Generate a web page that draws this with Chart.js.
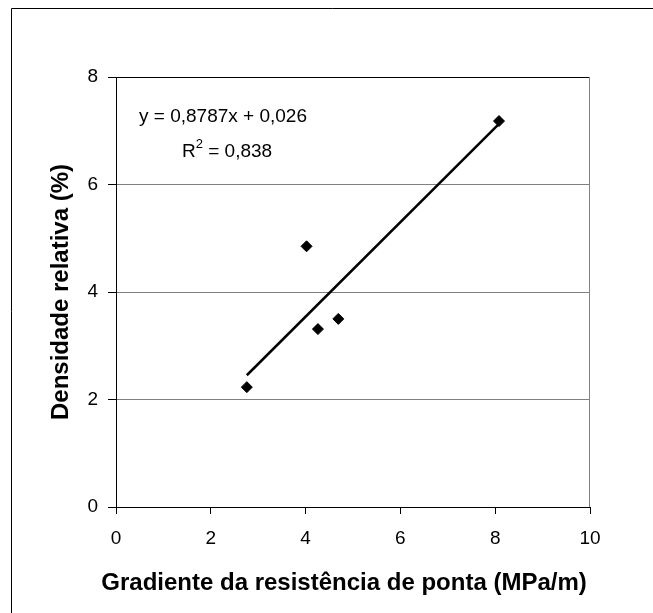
<!DOCTYPE html>
<html>
<head>
<meta charset="utf-8">
<script src="https://cdn.jsdelivr.net/npm/chart.js@4/dist/chart.umd.min.js"></script>
<style>
    html, body { margin: 0; padding: 0; background: #fff; }
    canvas { display: block; }
</style>
</head>
<body>
<canvas id="grafico" width="653" height="613"></canvas>
<script>
// dados
var gradiente = [2.76, 4.02, 4.26, 4.69, 8.08];
var densidade = [2.23, 4.85, 3.31, 3.50, 7.18];

// linha de tendência (Excel)
var inclinacao = 0.8787;
var intercepto = 0.026;
var r2 = "0,838";

var xTicks = [0, 2, 4, 6, 8, 10];
var yTicks = [0, 2, 4, 6, 8];

var tituloX = "Gradiente da resistência de ponta (MPa/m)";
var tituloY = "Densidade relativa (%)";

var fonte = "'Liberation Sans', Arial, sans-serif";
Chart.defaults.color = "#000";
Chart.defaults.font.family = fonte;

var pontos = gradiente.map(function (x, i) {
    return { x: x, y: densidade[i] };
});

var xMin = Math.min.apply(null, gradiente);
var xMax = Math.max.apply(null, gradiente);
var tendencia = [
    { x: xMin, y: inclinacao * xMin + intercepto },
    { x: xMax, y: inclinacao * xMax + intercepto },
];

// moldura externa, borda direita do gráfico, título x e equação
var extras = {
    id: "extras",
    beforeDraw: function (chart) {
        var ctx = chart.ctx;
        ctx.save();
        ctx.strokeStyle = "#000";
        ctx.lineWidth = 1;
        ctx.beginPath();
        ctx.moveTo(11.5, 700);
        ctx.lineTo(11.5, 8.5);
        ctx.lineTo(700, 8.5);
        ctx.stroke();
        ctx.restore();
    },
    afterDraw: function (chart) {
        var ctx = chart.ctx;
        var area = chart.chartArea;
        ctx.save();
        ctx.strokeStyle = "#808080";
        ctx.lineWidth = 1;
        ctx.beginPath();
        ctx.moveTo(Math.round(area.right) - 0.5, area.top);
        ctx.lineTo(Math.round(area.right) - 0.5, area.bottom);
        ctx.stroke();

        ctx.fillStyle = "#000";
        ctx.textBaseline = "middle";
        ctx.textAlign = "center";
        ctx.font = "bold 24px " + fonte;
        ctx.fillText(tituloX, 344, 583);

        ctx.textAlign = "left";
        ctx.font = "19px " + fonte;
        var eq = "y = " + String(inclinacao).replace(".", ",") + "x + " + String(intercepto).replace(".", ",");
        ctx.fillText(eq, area.left + 23, 117);

        var x0 = area.left + 66;
        ctx.fillText("R", x0, 152);
        var wR = ctx.measureText("R").width;
        ctx.font = "13px " + fonte;
        ctx.fillText("2", x0 + wR, 144);
        var w2 = ctx.measureText("2").width;
        ctx.font = "19px " + fonte;
        ctx.fillText(" = " + r2, x0 + wR + w2, 152);
        ctx.restore();
    },
};

var ctx = document.getElementById("grafico").getContext("2d");
var grafico = new Chart(ctx, {
    type: "scatter",
    data: {
        datasets: [
            {
                label: "tendência",
                data: tendencia,
                showLine: true,
                borderColor: "#000",
                borderWidth: 2.5,
                pointRadius: 0,
                fill: false,
            },
            {
                label: "dados",
                data: pontos,
                pointStyle: "rectRot",
                pointRadius: 5.5,
                backgroundColor: "#000",
                borderColor: "#000",
                borderWidth: 1,
            },
        ],
    },
    options: {
        responsive: false,
        animation: false,
        layout: {
            padding: { top: 77, right: 63, bottom: 0, left: 0 },
        },
        plugins: {
            legend: { display: false },
            tooltip: { enabled: false },
        },
        scales: {
            x: {
                type: "linear",
                min: 0,
                max: 10,
                afterBuildTicks: function (scale) {
                    scale.ticks = xTicks.map(function (v) { return { value: v }; });
                },
                afterFit: function (scale) {
                    scale.height = 106;
                },
                ticks: {
                    padding: 13,
                    font: { size: 19 },
                    color: "#000",
                },
                grid: {
                    drawOnChartArea: false,
                    tickLength: 7,
                    tickColor: "#000",
                },
                border: { color: "#000", width: 1 },
            },
            y: {
                min: 0,
                max: 8,
                afterBuildTicks: function (scale) {
                    scale.ticks = yTicks.map(function (v) { return { value: v }; });
                },
                afterFit: function (scale) {
                    scale.width = 116;
                },
                ticks: {
                    padding: 10,
                    font: { size: 19 },
                    color: "#000",
                },
                grid: {
                    color: function (c) {
                        return c.tick && c.tick.value === 8 ? "#000" : "#808080";
                    },
                    lineWidth: 1,
                    tickLength: 8,
                    tickColor: "#000",
                },
                border: { color: "#000", width: 1 },
                title: {
                    display: true,
                    text: tituloY,
                    font: { size: 24, weight: "bold" },
                    color: "#000",
                    padding: { top: 47, bottom: 0 },
                },
            },
        },
    },
    plugins: [extras],
});
</script>
</body>
</html>
